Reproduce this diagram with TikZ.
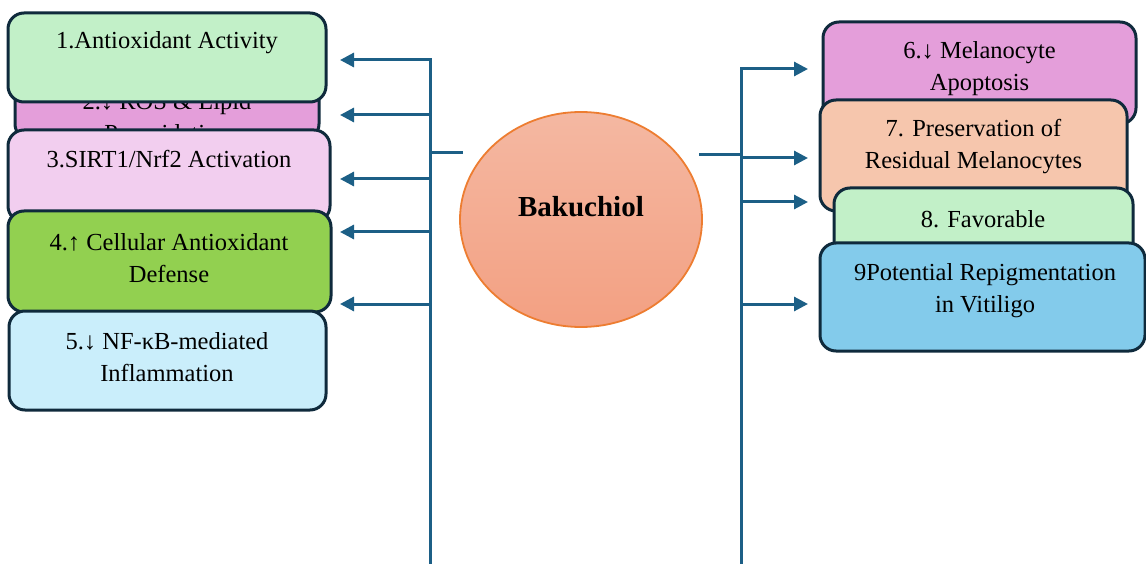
\documentclass[tikz,border=0pt]{standalone}
\usepackage{fontspec}
\setmainfont{Liberation Serif}
\usetikzlibrary{arrows.meta,shapes.geometric}
\definecolor{busc}{HTML}{1C5F86}
\definecolor{edgec}{HTML}{0F2A3C}
\definecolor{cgreen}{HTML}{C2F0C8}
\definecolor{cviolet}{HTML}{E49EDA}
\definecolor{cpink}{HTML}{F2CEEF}
\definecolor{clime}{HTML}{92D050}
\definecolor{cice}{HTML}{CAEEFB}
\definecolor{cpeach}{HTML}{F6C6AD}
\definecolor{csky}{HTML}{83CBEB}
\definecolor{orng}{HTML}{ED7D31}
\definecolor{saltop}{HTML}{F4B8A2}
\definecolor{salbot}{HTML}{F3A082}
\begin{document}
\begin{tikzpicture}[x=1pt,y=-1pt,
  boxnode/.style={draw=edgec, line width=3pt, rounded corners=16pt, inner sep=0pt},
  txt/.style={font=\fontsize{24.5}{32.5}\selectfont, align=center, inner sep=0pt},
  busline/.style={draw=busc, line width=3pt},
  arr/.style={busline, -{Triangle[length=14pt,width=14pt]}}]
\useasboundingbox (0,0) rectangle (1146,564);
% left boxes
\node[boxnode, fill=cviolet, minimum width=304pt, minimum height=70pt] (b2) at (167,105) {};
\node[txt] (t2) at (167,117) {2.↓ ROS \& Lipid\\Peroxidation};
\node[boxnode, fill=cgreen, minimum width=318pt, minimum height=89pt] (b1) at (167,57.5) {};
\node[txt] (t1) at (167,43) {1.Antioxidant Activity};
\node[boxnode, fill=cpink, minimum width=322pt, minimum height=92pt] (b3) at (169,176) {};
\node[txt] (t3) at (169,159) {3.SIRT1/Nrf2 Activation};
\node[boxnode, fill=clime, minimum width=323pt, minimum height=101pt] (b4) at (169.5,261.5) {};
\node[txt] (t4) at (169,258) {4.↑ Cellular Antioxidant\\Defense};
\node[boxnode, fill=cice, minimum width=317pt, minimum height=99pt] (b5) at (167.5,360.5) {};
\node[txt] (t5) at (167,357) {5.↓ NF-κB-mediated\\Inflammation};
% right boxes
\node[boxnode, fill=cviolet, minimum width=313pt, minimum height=102pt] (b6) at (979.5,73) {};
\node[txt] (t6) at (979.5,68.5) {6.↓ Melanocyte\\Apoptosis};
\node[boxnode, fill=cpeach, minimum width=307pt, minimum height=111pt] (b7) at (973.5,155.5) {};
\node[txt] (t7) at (973.5,146.5) {7. Preservation of\\Residual Melanocytes};
\node[boxnode, fill=cgreen, minimum width=299pt, minimum height=72pt] (b8) at (983.5,224) {};
\node[txt] (t8) at (983,219) {8. Favorable};
\node[boxnode, fill=csky, minimum width=325pt, minimum height=108pt] (b9) at (982.5,297) {};
\node[txt] (t9) at (985,290.5) {9Potential Repigmentation\\in Vitiligo};
% center ellipse
\node[ellipse, draw=orng, line width=1.8pt, top color=saltop, bottom color=salbot,
      minimum width=242pt, minimum height=215pt, inner sep=0pt] (bak) at (581,219.5) {};
\node[font=\fontsize{29}{32}\selectfont\bfseries, inner sep=0pt] (baklbl) at (581,207) {Bakuchiol};
% left bus
\coordinate (Lbot) at (430,564);
\coordinate (Ltop) at (430,60);
\coordinate (La1) at (340,60);
\coordinate (Ls2) at (430,115); \coordinate (La2) at (340,115);
\coordinate (Ls3) at (430,179); \coordinate (La3) at (340,179);
\coordinate (Ls4) at (430,232); \coordinate (La4) at (340,232);
\coordinate (Ls5) at (430,304); \coordinate (La5) at (340,304);
\coordinate (Lt0) at (430,153); \coordinate (Lt1) at (463,153);
\draw[arr] (Lbot) -- (Ltop) -- (La1);
\draw[arr] (Ls2) -- (La2);
\draw[arr] (Ls3) -- (La3);
\draw[arr] (Ls4) -- (La4);
\draw[arr] (Ls5) -- (La5);
\draw[busline] (Lt0) -- (Lt1);
% right bus
\coordinate (Rbot) at (741,564);
\coordinate (Rtop) at (741,69);
\coordinate (Ra6) at (808,69);
\coordinate (Rs7) at (741,158); \coordinate (Ra7) at (808,158);
\coordinate (Rs8) at (741,202); \coordinate (Ra8) at (808,202);
\coordinate (Rs9) at (741,304); \coordinate (Ra9) at (808,304);
\coordinate (Rt0) at (699,155); \coordinate (Rt1) at (741,155);
\draw[arr] (Rbot) -- (Rtop) -- (Ra6);
\draw[arr] (Rs7) -- (Ra7);
\draw[arr] (Rs8) -- (Ra8);
\draw[arr] (Rs9) -- (Ra9);
\draw[busline] (Rt0) -- (Rt1);
\end{tikzpicture}
\end{document}
